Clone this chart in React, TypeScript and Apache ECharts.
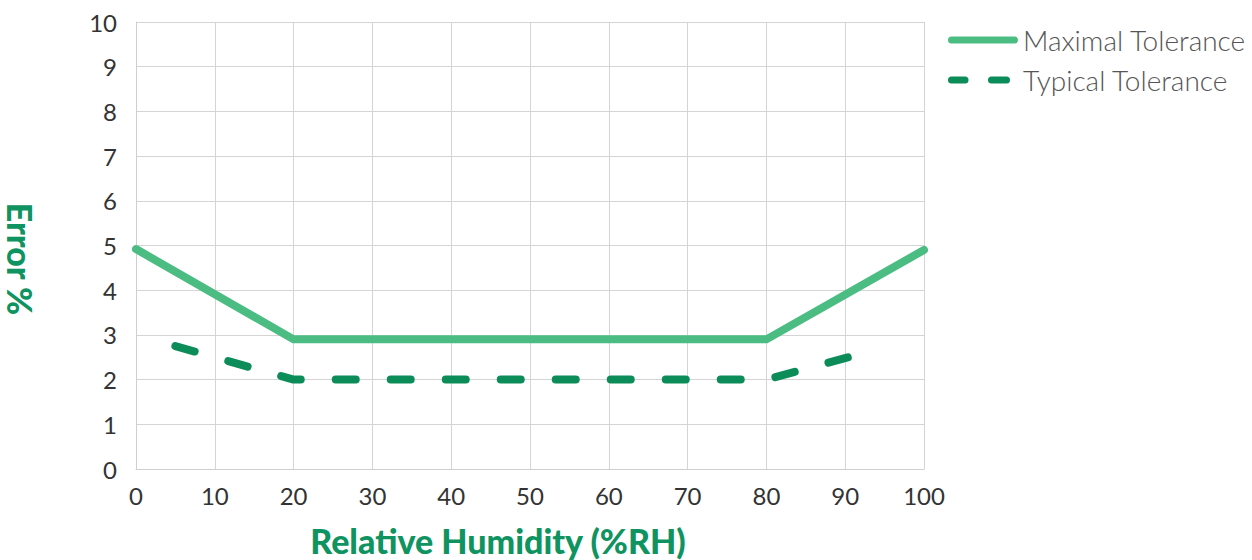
import React, { useEffect, useRef } from "react";
import * as echarts from "echarts";

const maxTolerance: [number, number][] = [
  [0, 4.92],
  [20, 2.9],
  [80, 2.9],
  [100, 4.9],
];
const typicalTolerance: [number, number][] = [
  [5, 2.75],
  [20, 2.0],
  [80, 2.0],
  [92.5, 2.6],
];
const seriesNames = ["Maximal Tolerance", "Typical Tolerance"];
const xTitle = "Relative Humidity (%RH)";
const yTitle = "Error %";

const C_MAX = "#4cbd82";
const C_TYP = "#0b8c58";
const C_TITLE = "#0f9360";
const FONT = "Lato, 'Open Sans', sans-serif";

export default function App() {
  const ref = useRef<HTMLDivElement>(null);
  useEffect(() => {
    if (!ref.current) return;
    const chart = echarts.init(ref.current, undefined, { renderer: "svg" });
    const legendLeft = 948;
    const legendTop = 26;
    const rowH = 28;
    const gap = 12;
    const y1 = legendTop + rowH / 2;
    const y2 = legendTop + rowH + gap + rowH / 2;
    const iconLine = (x1: number, x2: number, y: number, color: string) => ({
      type: "line",
      shape: { x1, y1: y, x2, y2: y },
      style: { stroke: color, lineWidth: 7, lineCap: "round" },
      silent: true,
    });
    chart.setOption({
      animation: false,
      backgroundColor: "#ffffff",
      textStyle: { fontFamily: FONT },
      grid: { left: 136, right: 328, top: 22, bottom: 91 },
      legend: {
        orient: "vertical",
        left: legendLeft,
        top: legendTop,
        padding: 0,
        itemWidth: 70,
        itemHeight: 8,
        itemGap: gap,
        icon: "none",
        selectedMode: false,
        textStyle: { fontSize: 28, fontWeight: 300, color: "#555555", fontFamily: FONT, lineHeight: rowH },
        data: seriesNames,
      },
      xAxis: {
        type: "value",
        min: 0,
        max: 100,
        interval: 10,
        axisLine: { show: true, lineStyle: { color: "#cfcfcf", width: 1 } },
        axisTick: { show: false },
        splitLine: { show: true, lineStyle: { color: "#d4d4d4", width: 1 } },
        axisLabel: { fontSize: 24, fontWeight: 400, color: "#333333", margin: 14, fontFamily: FONT },
      },
      yAxis: {
        type: "value",
        min: 0,
        max: 10,
        interval: 1,
        axisLine: { show: true, lineStyle: { color: "#cfcfcf", width: 1 } },
        axisTick: { show: false },
        splitLine: { show: true, lineStyle: { color: "#d4d4d4", width: 1 } },
        axisLabel: { fontSize: 24, fontWeight: 400, color: "#333333", margin: 19, fontFamily: FONT },
      },
      graphic: [
        iconLine(legendLeft + 3.5, legendLeft + 70 - 3.5, y1, C_MAX),
        iconLine(legendLeft + 3.5, legendLeft + 17, y2, C_TYP),
        iconLine(legendLeft + 43.5, legendLeft + 58.5, y2, C_TYP),
        {
          type: "text",
          x: 20,
          y: 259,
          rotation: -Math.PI / 2,
          style: {
            text: yTitle,
            fontSize: 34,
            fontWeight: 900,
            fill: C_TITLE,
            fontFamily: FONT,
            align: "center",
            verticalAlign: "middle",
          },
        },
        {
          type: "text",
          x: 498,
          y: 540,
          style: {
            text: xTitle,
            fontSize: 34,
            fontWeight: 900,
            fill: C_TITLE,
            fontFamily: FONT,
            align: "center",
            verticalAlign: "middle",
          },
        },
      ],
      series: [
        {
          name: seriesNames[0],
          type: "line",
          data: maxTolerance,
          symbol: "none",
          lineStyle: { width: 8, color: C_MAX, cap: "round", join: "round" },
          itemStyle: { color: C_MAX },
          z: 3,
        },
        {
          name: seriesNames[1],
          type: "line",
          data: typicalTolerance,
          symbol: "none",
          lineStyle: { width: 8, color: C_TYP, type: [20, 35], cap: "round", join: "round" },
          itemStyle: { color: C_TYP },
          z: 2,
        },
      ],
    });
    return () => chart.dispose();
  }, []);
  return (
    <div
      ref={ref}
      style={{ position: "fixed", left: 0, top: 0, width: 1252, height: 560, background: "#fff" }}
    />
  );
}
